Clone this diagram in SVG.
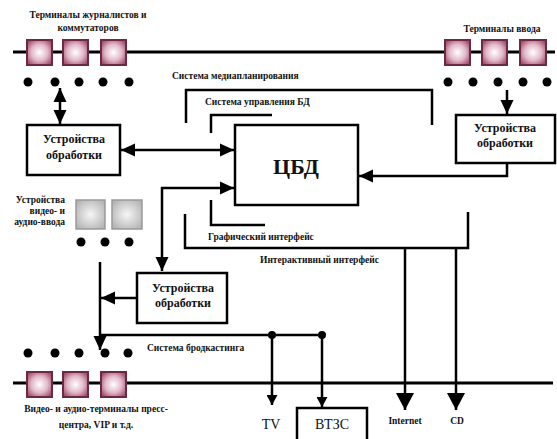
<svg xmlns="http://www.w3.org/2000/svg" width="557" height="439" viewBox="0 0 557 439">
<style>
.bus{stroke:#000;stroke-width:3;fill:none}
.ln{stroke:#000;stroke-width:2.5;fill:none}
.box{fill:#fff;stroke:#000;stroke-width:2.5}
.t{font-family:"Liberation Serif",serif;font-weight:bold;font-size:9.5px;fill:#111}
.bt{font-family:"Liberation Serif",serif;font-weight:bold;font-size:12px;fill:#111;text-anchor:middle}
.big{font-family:"Liberation Serif",serif;font-weight:bold;font-size:22px;fill:#111;text-anchor:middle}
.n{font-family:"Liberation Serif",serif;font-size:14px;fill:#111;text-anchor:middle}
.pk{fill:url(#pg);stroke:#6b2a42;stroke-width:2}
.gr{fill:url(#gg);stroke:#9a9a9a;stroke-width:1.5}
</style>
<defs>
<radialGradient id="pg" cx="0.5" cy="0.5" r="0.6"><stop offset="0" stop-color="#ffffff"/><stop offset="0.55" stop-color="#e2b8c8"/><stop offset="1" stop-color="#a24f6e"/></radialGradient>
<radialGradient id="gg" cx="0.5" cy="0.5" r="0.65"><stop offset="0" stop-color="#f6f6f6"/><stop offset="1" stop-color="#b0b0b0"/></radialGradient>
<marker id="a" markerUnits="userSpaceOnUse" markerWidth="15" markerHeight="15" viewBox="0 0 15 15" refX="14" refY="7.5" orient="auto-start-reverse"><path d="M0,1 L14,7.5 L0,14 Z" fill="#000"/></marker>
<marker id="b" markerUnits="userSpaceOnUse" markerWidth="18" markerHeight="18" viewBox="0 0 18 18" refX="17" refY="9" orient="auto"><path d="M0,0 L17,9 L0,18 Z" fill="#000"/></marker>
<marker id="s" markerUnits="userSpaceOnUse" markerWidth="11" markerHeight="11" viewBox="0 0 11 11" refX="10" refY="5.5" orient="auto"><path d="M0,0 L10,5.5 L0,11 Z" fill="#000"/></marker>
</defs>
<rect width="557" height="439" fill="#fff"/>

<g id="bus-top">
<line class="bus" x1="13" y1="52" x2="555" y2="52"/>
</g>
<g id="bus-bottom">
<line class="bus" x1="13" y1="383" x2="553" y2="383"/>
</g>

<g id="journalists">
<text class="t" x="88" y="18" text-anchor="middle">Терминалы журналистов и</text>
<text class="t" x="88" y="31" text-anchor="middle">коммутаторов</text>
<rect class="pk" x="27" y="40" width="25" height="25"/>
<rect class="pk" x="63" y="40" width="25" height="25"/>
<rect class="pk" x="101" y="40" width="25" height="25"/>
<circle cx="28" cy="82" r="4.5"/><circle cx="55" cy="82" r="4.5"/><circle cx="79" cy="82" r="4.5"/><circle cx="103" cy="82" r="4.5"/><circle cx="129" cy="82" r="4.5"/>
</g>

<g id="input-terminals">
<text class="t" x="502" y="32" text-anchor="middle">Терминалы ввода</text>
<rect class="pk" x="445" y="40" width="25" height="25"/>
<rect class="pk" x="482" y="40" width="25" height="25"/>
<rect class="pk" x="520" y="40" width="26" height="25"/>
<circle cx="448" cy="82" r="4.5"/><circle cx="473" cy="82" r="4.5"/><circle cx="498" cy="82" r="4.5"/><circle cx="523" cy="82" r="4.5"/><circle cx="547" cy="82" r="4.5"/>
</g>

<g id="proc-left">
<rect class="box" x="27" y="125" width="93" height="50"/>
<text class="bt" x="74" y="143">Устройства</text>
<text class="bt" x="74" y="159">обработки</text>
</g>

<g id="proc-right">
<rect class="box" x="456" y="115" width="99" height="48"/>
<text class="bt" x="505" y="132">Устройства</text>
<text class="bt" x="505" y="147">обработки</text>
</g>

<g id="cbd">
<rect class="box" x="235" y="125" width="123" height="80"/>
<text class="big" x="296" y="174">ЦБД</text>
</g>

<g id="av-input">
<text class="t" x="65" y="203" text-anchor="end">Устройства</text>
<text class="t" x="65" y="214" text-anchor="end">видео- и</text>
<text class="t" x="65" y="225" text-anchor="end">аудио-ввода</text>
<rect class="gr" x="76" y="200" width="29" height="29"/>
<rect class="gr" x="112" y="200" width="30" height="29"/>
<circle cx="81" cy="242" r="4.5"/><circle cx="105" cy="242" r="4.5"/><circle cx="129" cy="242" r="4.5"/>
</g>

<g id="proc-lower">
<rect class="box" x="137" y="273" width="90" height="50"/>
<text class="bt" x="183" y="292">Устройства</text>
<text class="bt" x="183" y="307">обработки</text>
</g>

<g id="press">
<rect class="pk" x="27" y="372" width="25" height="25"/>
<rect class="pk" x="63" y="372" width="25" height="25"/>
<rect class="pk" x="101" y="372" width="25" height="25"/>
<circle cx="28" cy="353" r="4.5"/><circle cx="55" cy="353" r="4.5"/><circle cx="79" cy="353" r="4.5"/><circle cx="105" cy="353" r="4.5"/><circle cx="128" cy="353" r="4.5"/>
<text class="t" x="96" y="412" text-anchor="middle">Видео- и аудио-терминалы пресс-</text>
<text class="t" x="96" y="428" text-anchor="middle">центра, VIP и т.д.</text>
</g>

<g id="outputs">
<text class="n" x="271" y="429">TV</text>
<rect class="box" x="297" y="408" width="70" height="34"/>
<text class="n" x="332" y="429">ВТЗС</text>
<text class="t" x="405" y="424" text-anchor="middle">Internet</text>
<text class="t" x="457" y="424" text-anchor="middle">CD</text>
</g>

<g id="labels">
<text class="t" x="172" y="79">Система медиапланирования</text>
<text class="t" x="205" y="105">Система управления БД</text>
<text class="t" x="208" y="240">Графический интерфейс</text>
<text class="t" x="260" y="263">Интерактивный интерфейс</text>
<text class="t" x="147" y="351">Система бродкастинга</text>
</g>

<g id="connectors">
<path class="ln" d="M186,123 V90 H432 V125"/>
<path class="ln" d="M211,133 V115 H272"/>
<path class="ln" d="M211,200 V225 H265"/>
<path class="ln" d="M185,214 V248 H468 V212"/>
<line class="ln" x1="60" y1="88" x2="60" y2="124" marker-start="url(#a)" marker-end="url(#a)"/>
<line class="ln" x1="121" y1="150" x2="234" y2="150" marker-start="url(#a)" marker-end="url(#a)"/>
<line class="ln" x1="507" y1="90" x2="507" y2="114" marker-end="url(#a)"/>
<path class="ln" d="M507,163 V176 H359" marker-end="url(#a)"/>
<path class="ln" d="M162,271 V188 H234" marker-start="url(#a)" marker-end="url(#a)"/>
<line class="ln" x1="137" y1="298" x2="101" y2="298" marker-end="url(#a)"/>
<line class="ln" x1="100" y1="262" x2="100" y2="350" marker-end="url(#a)"/>
<line class="ln" x1="100" y1="335" x2="322" y2="335"/>
<circle cx="272" cy="335" r="4"/><circle cx="322" cy="335" r="4"/>
<line class="ln" x1="272" y1="335" x2="272" y2="405" marker-end="url(#s)"/>
<line class="ln" x1="322" y1="335" x2="322" y2="407" marker-end="url(#s)"/>
<line class="ln" x1="405" y1="248" x2="405" y2="410" stroke-width="3" marker-end="url(#b)"/>
<line class="ln" x1="456" y1="248" x2="456" y2="410" stroke-width="3" marker-end="url(#b)"/>
</g>
</svg>
